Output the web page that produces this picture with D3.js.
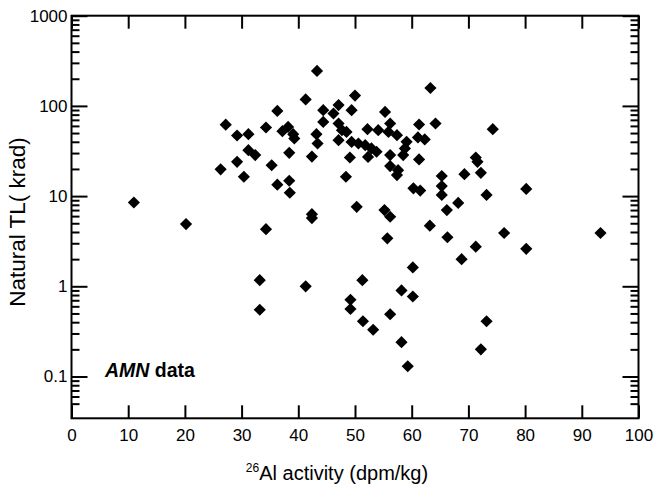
<!DOCTYPE html>
<html lang="en">
<head>
  <meta charset="utf-8">
  <title>AMN data</title>
  <script src="https://cdn.jsdelivr.net/npm/d3@7"></script>
  <style>
    body { margin: 0; background: #fff; }
    text { font-family: "Liberation Sans", Arial, sans-serif; fill: #000; }
    .tick line { stroke: #000; stroke-width: 2px; }
    .domain { display: none; }
  </style>
</head>
<body>
<svg width="657" height="484"></svg>
<script>
// 26Al activity (dpm/kg)
var al26 = [11.0, 20.2, 26.3, 27.2, 29.2, 31.2, 34.3, 37.2, 38.2, 39.1,
            39.3, 43.2, 43.4, 43.3, 41.3, 36.3, 44.4, 47.1, 46.2, 44.4,
            49.4, 50.0, 47.1, 47.7, 48.5, 47.1, 49.4, 31.2, 32.4, 38.4,
            42.4, 29.2, 35.3, 30.4, 36.3, 38.4, 38.5, 49.1, 48.4, 42.4,
            42.4, 63.3, 55.3, 52.2, 54.1, 56.2, 55.9, 57.4, 61.3, 64.2,
            74.3, 62.3, 61.1, 50.6, 51.8, 52.9, 53.8, 52.3, 59.1, 58.8,
            58.5, 56.2, 56.2, 57.6, 57.4, 61.3, 65.3, 65.3, 65.3, 69.3,
            71.3, 71.6, 72.2, 60.3, 61.5, 68.2, 73.2, 50.3, 55.2, 56.2,
            66.2, 80.2, 63.2, 66.3, 76.3, 93.3, 71.3, 80.2, 68.8, 34.3,
            55.7, 60.2, 33.2, 41.3, 51.3, 58.2, 60.2, 49.2, 49.2, 33.2,
            51.4, 53.2, 56.2, 58.2, 59.3, 73.2, 72.2];
// Natural TL (krad)
var natTL = [8.5, 4.9, 19.8, 62, 47, 48.6, 57.6, 52.5, 58.5, 48.6,
             43.5, 48.6, 38.3, 244, 118, 88, 89.6, 102, 82.4, 66.5,
             89.6, 130, 63.8, 53.8, 51.5, 41.7, 39.9, 32.3, 28.5, 30.2,
             27.4, 24, 22, 16.4, 13.4, 14.8, 10.9, 26.8, 16.4, 6.3,
             5.7, 158, 85.8, 55.2, 53.8, 63.8, 51.5, 47.4, 62.2, 63.8,
             55.2, 42.5, 44.7, 38.3, 36.7, 33.8, 31, 27.2, 40, 33.8,
             28.5, 28.5, 21.5, 19.4, 17.1, 25.5, 16.7, 12.9, 10.3, 17.5,
             26.8, 24, 18.1, 12.2, 11.5, 8.4, 10.3, 7.6, 7.0, 5.9,
             7.0, 12, 4.7, 3.5, 3.9, 3.9, 2.75, 2.6, 2.0, 4.3,
             3.4, 1.62, 1.17, 1.0, 1.17, 0.90, 0.77, 0.71, 0.56, 0.55,
             0.41, 0.33, 0.49, 0.24, 0.13, 0.41, 0.20];

var xTicks = [0, 10, 20, 30, 40, 50, 60, 70, 80, 90, 100];
var yTicks = [0.1, 1, 10, 100, 1000];
var yTickLabels = ["0.1", "1", "10", "100", "1000"];
var xRange = [0, 100];
var yRange = [0.0344, 1000];

var svg = d3.select("svg"),
    box = {left: 71.5, right: 638.5, top: 15.7, bottom: 418.3};

var x = d3.scaleLinear().domain(xRange).range([box.left, box.right]),
    y = d3.scaleLog().domain(yRange).range([box.bottom, box.top]);

// minor log ticks 2..9 in each decade
var yMinor = [];
[0.01, 0.1, 1, 10, 100].forEach(function(dec) {
  for (var m = 2; m <= 9; m++) {
    var v = dec * m;
    if (v >= 0.05 && v < 1000) yMinor.push(v);
  }
});

svg.append("g")
    .attr("transform", "translate(0," + box.bottom + ")")
    .call(d3.axisBottom(x).tickValues(xTicks).tickSize(-13).tickPadding(11))
    .selectAll("text").style("font-size", "17px");

svg.append("g")
    .attr("transform", "translate(0," + box.top + ")")
    .call(d3.axisTop(x).tickValues(xTicks).tickSize(-13).tickFormat(""));

svg.append("g")
    .attr("transform", "translate(" + box.left + ",0)")
    .call(d3.axisLeft(y).tickValues(yTicks).tickSize(-16).tickPadding(4)
      .tickFormat(function(d, i) { return yTickLabels[i]; }))
    .selectAll("text").style("font-size", "17px");

svg.append("g")
    .attr("transform", "translate(" + box.left + ",0)")
    .call(d3.axisLeft(y).tickValues(yMinor).tickSize(-8).tickFormat(""));

svg.append("g")
    .attr("transform", "translate(" + box.right + ",0)")
    .call(d3.axisRight(y).tickValues(yTicks).tickSize(-16).tickFormat(""));

svg.append("g")
    .attr("transform", "translate(" + box.right + ",0)")
    .call(d3.axisRight(y).tickValues(yMinor).tickSize(-8).tickFormat(""));

// frame
svg.append("rect")
    .attr("x", box.left).attr("y", box.top)
    .attr("width", box.right - box.left).attr("height", box.bottom - box.top)
    .attr("fill", "none").attr("stroke", "#000").attr("stroke-width", 2);

// points
var diamond = d3.symbol().type(d3.symbolSquare).size(74);
svg.append("g").selectAll("path")
    .data(al26)
  .enter().append("path")
    .attr("d", diamond)
    .attr("fill", "#000")
    .attr("transform", function(d, i) {
      return "translate(" + x(d) + "," + y(natTL[i]) + ") rotate(45)";
    });

// labels
var note = svg.append("text")
    .attr("x", 105).attr("y", 377)
    .style("font-size", "19.5px").style("font-weight", "bold");
note.append("tspan").style("font-style", "italic").text("AMN");
note.append("tspan").text(" data");

var xt = svg.append("text")
    .attr("x", 337).attr("y", 477)
    .attr("text-anchor", "middle")
    .style("font-size", "20px");
xt.append("tspan").attr("dy", "-0.4em").style("font-size", "12px").text("26");
xt.append("tspan").attr("dy", "0.4em").text("Al activity  (dpm/kg)");

svg.append("text")
    .attr("transform", "translate(25,222) rotate(-90)")
    .attr("text-anchor", "middle")
    .style("font-size", "22.5px")
    .text("Natural TL( krad)");
</script>
</body>
</html>
